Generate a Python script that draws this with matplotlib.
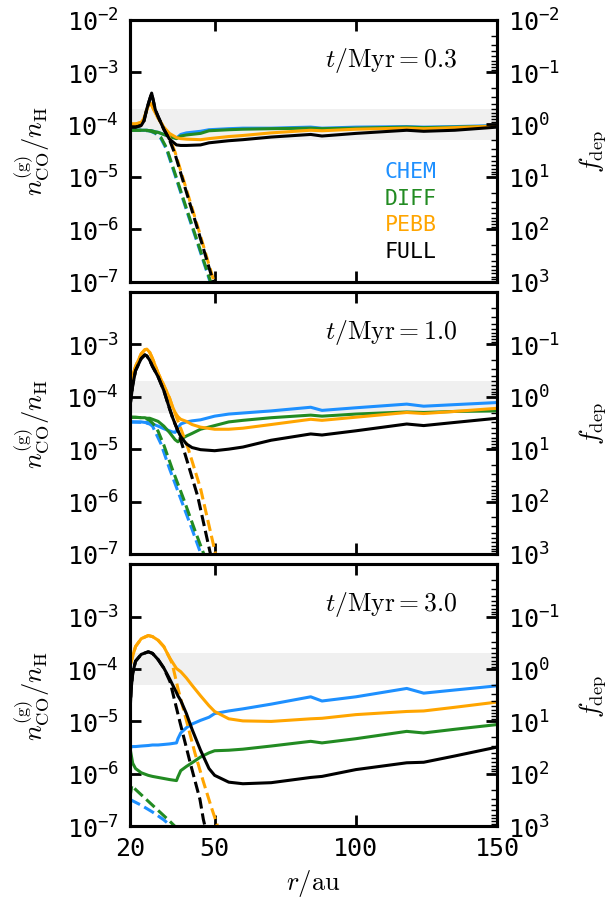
import numpy as np
import matplotlib.pyplot as plt
from matplotlib.ticker import FixedLocator, FuncFormatter, LogLocator, NullLocator

# gas-phase CO abundance (log10 n_CO/n_H) vs radius for the four models
times = ['0.3', '1.0', '3.0']
models = ['CHEM', 'DIFF', 'PEBB', 'FULL']
colors = {'CHEM': '#1e90ff', 'DIFF': '#228b22', 'PEBB': '#ffa500', 'FULL': 'black'}

# ---- t = 0.3 Myr ----
r1 = [20, 22, 24, 25, 26, 27, 27.7, 29, 30, 32, 34, 36.5, 38, 40, 45, 48, 55, 60, 70, 84, 88, 100, 118, 124, 135, 150]
chem1 = [-4.11, -4.11, -4.11, -4.11, -4.11, -4.12, -4.12, -4.14, -4.15, -4.19, -4.23, -4.26, -4.19, -4.16, -4.13,
         -4.10, -4.08, -4.07, -4.07, -4.05, -4.07, -4.05, -4.04, -4.05, -4.04, -4.02]
diff1 = [-4.11, -4.11, -4.11, -4.11, -4.11, -4.12, -4.12, -4.14, -4.15, -4.19, -4.23, -4.27, -4.22, -4.20, -4.17,
         -4.12, -4.10, -4.09, -4.08, -4.07, -4.08, -4.07, -4.05, -4.06, -4.05, -4.03]
pebb1 = [-3.99, -3.99, -3.96, -3.88, -3.72, -3.58, -3.63, -3.78, -3.88, -4.05, -4.17, -4.25, -4.27, -4.28, -4.29,
         -4.27, -4.23, -4.21, -4.16, -4.11, -4.12, -4.09, -4.07, -4.08, -4.06, -4.03]
full1 = [-4.05, -4.05, -4.02, -3.93, -3.70, -3.52, -3.40, -3.72, -3.85, -4.09, -4.28, -4.39, -4.40, -4.40, -4.39,
         -4.35, -4.31, -4.29, -4.24, -4.19, -4.22, -4.17, -4.11, -4.13, -4.11, -4.05]
# dashed curves
r1_chem_d = [20, 24, 27, 29, 31, 33, 36, 40, 44, 48, 50]
chem1_d = [-4.11, -4.11, -4.12, -4.17, -4.27, -4.48, -4.97, -5.63, -6.28, -6.94, -7.27]
r1_diff_d = [20, 24, 27, 29, 31, 33, 36, 40, 44, 48, 50]
diff1_d = [-4.11, -4.11, -4.12, -4.16, -4.25, -4.45, -4.94, -5.60, -6.25, -6.91, -7.24]
r1_pebb_d = [20, 22, 24, 25, 26, 27, 27.7, 29, 30, 32, 34, 36, 40, 44, 48, 50]
pebb1_d = [-3.99, -3.99, -3.96, -3.88, -3.72, -3.58, -3.63, -3.78, -3.88, -4.05, -4.25, -4.53, -5.24, -5.95, -6.68, -7.04]
r1_full_d = [20, 22, 24, 25, 26, 27, 27.7, 29, 30, 32, 34, 36, 40, 44, 48, 50]
full1_d = [-4.05, -4.05, -4.02, -3.93, -3.70, -3.52, -3.40, -3.72, -3.85, -4.09, -4.29, -4.57, -5.29, -6.00, -6.73, -7.09]

# ---- t = 1.0 Myr ----
r2 = [20, 21, 22, 24, 25.3, 26, 27, 28, 30, 32, 34, 35, 36, 37, 38, 40, 42, 45, 50, 55, 60, 70, 84, 88, 100, 118, 124, 135, 150]
chem2 = [-4.48, -4.48, -4.48, -4.48, -4.49, -4.49, -4.50, -4.52, -4.56, -4.61, -4.65, -4.67, -4.68, -4.60, -4.52,
         -4.48, -4.46, -4.44, -4.37, -4.33, -4.31, -4.27, -4.20, -4.26, -4.21, -4.14, -4.18, -4.15, -4.11]
diff2 = [-4.39, -4.39, -4.39, -4.40, -4.40, -4.41, -4.41, -4.43, -4.47, -4.56, -4.68, -4.75, -4.82, -4.86, -4.81,
         -4.75, -4.70, -4.62, -4.55, -4.48, -4.45, -4.40, -4.35, -4.37, -4.33, -4.29, -4.30, -4.28, -4.27]
pebb2 = [-3.85, -3.60, -3.42, -3.18, -3.10, -3.09, -3.15, -3.27, -3.55, -3.78, -4.02, -4.18, -4.30, -4.38, -4.43,
         -4.47, -4.53, -4.58, -4.62, -4.62, -4.60, -4.53, -4.43, -4.45, -4.39, -4.30, -4.32, -4.28, -4.22]
full2 = [-4.20, -3.78, -3.50, -3.27, -3.20, -3.22, -3.30, -3.42, -3.62, -3.88, -4.22, -4.38, -4.52, -4.65, -4.76,
         -4.90, -4.97, -5.01, -5.03, -5.00, -4.96, -4.83, -4.71, -4.73, -4.65, -4.52, -4.55, -4.49, -4.41]
r2_chem_d = [20, 25, 27, 28, 31, 34, 38, 42, 45, 46]
chem2_d = [-4.48, -4.49, -4.52, -4.56, -4.90, -5.37, -5.95, -6.53, -6.98, -7.12]
r2_diff_d = [20, 25, 27, 28.3, 30, 32, 35, 39, 43, 46, 47]
diff2_d = [-4.39, -4.40, -4.45, -4.52, -4.66, -4.92, -5.38, -5.95, -6.55, -6.98, -7.12]
r2_pebb_d = [20, 21, 22, 24, 25.3, 26, 27, 28, 30, 32, 34, 35, 37.7, 40.7, 45, 50.1, 51]
pebb2_d = [-3.85, -3.60, -3.42, -3.18, -3.10, -3.09, -3.15, -3.27, -3.55, -3.78, -4.02, -4.18, -4.56, -5.00, -5.75, -6.95, -7.15]
r2_full_d = [20, 21, 22, 24, 25.3, 26, 27, 28, 30, 32, 34, 35, 36, 37, 40, 44, 48.3, 49]
full2_d = [-4.20, -3.78, -3.50, -3.27, -3.20, -3.22, -3.30, -3.42, -3.62, -3.88, -4.22, -4.38, -4.52, -4.65, -5.18, -5.90, -6.95, -7.10]

# ---- t = 3.0 Myr ----
r3 = [20, 20.5, 21, 22, 24, 26.5, 28, 30, 32, 34, 36.5, 37, 38, 40, 42, 45, 48, 50, 55, 60, 70, 84, 88, 100, 118, 124, 135, 150]
chem3 = [-5.49, -5.49, -5.48, -5.48, -5.47, -5.46, -5.45, -5.45, -5.44, -5.43, -5.41, -5.33, -5.22, -5.12, -5.05,
         -4.98, -4.92, -4.85, -4.80, -4.76, -4.67, -4.53, -4.61, -4.53, -4.37, -4.46, -4.40, -4.32]
diff3 = [-5.50, -5.65, -5.80, -5.90, -5.98, -6.03, -6.05, -6.07, -6.09, -6.11, -6.13, -6.06, -5.94, -5.86, -5.79,
         -5.68, -5.60, -5.56, -5.55, -5.53, -5.47, -5.38, -5.41, -5.33, -5.19, -5.22, -5.15, -5.06]
pebb3 = [-3.95, -3.85, -3.75, -3.57, -3.42, -3.36, -3.38, -3.45, -3.57, -3.78, -3.99, -4.01, -4.05, -4.17, -4.31,
         -4.51, -4.70, -4.81, -4.95, -4.99, -5.00, -4.95, -4.94, -4.87, -4.81, -4.80, -4.73, -4.63]
full3 = [-4.85, -4.35, -4.08, -3.85, -3.72, -3.67, -3.70, -3.82, -3.98, -4.18, -4.45, -4.51, -4.60, -4.85, -5.15,
         -5.55, -5.90, -6.03, -6.16, -6.19, -6.17, -6.07, -6.05, -5.92, -5.79, -5.78, -5.66, -5.49]
r3_chem_d = [20, 24, 28, 32, 35]
chem3_d = [-6.49, -6.60, -6.73, -6.88, -7.02]
r3_diff_d = [20, 20.7, 22, 26, 30, 34, 37]
diff3_d = [-6.45, -6.22, -6.30, -6.50, -6.70, -6.90, -7.06]
r3_pebb_d = [20, 20.5, 21, 22, 24, 26.5, 28, 30, 32, 34, 35, 37, 40, 43, 46, 48.9, 50.7, 51.5]
pebb3_d = [-3.95, -3.85, -3.75, -3.57, -3.42, -3.36, -3.38, -3.45, -3.57, -3.78, -3.90, -4.37, -4.98, -5.60, -6.15,
           -6.65, -6.94, -7.10]
r3_full_d = [20, 20.5, 21, 22, 24, 26.5, 28, 30, 32, 34.2, 37.7, 41.3, 44.8, 46, 47]
full3_d = [-4.85, -4.35, -4.08, -3.85, -3.72, -3.67, -3.70, -3.82, -3.98, -4.24, -5.01, -5.78, -6.49, -6.87, -7.10]

panels = [
    (r1, [chem1, diff1, pebb1, full1],
     [(r1_chem_d, chem1_d), (r1_diff_d, diff1_d), (r1_pebb_d, pebb1_d), (r1_full_d, full1_d)]),
    (r2, [chem2, diff2, pebb2, full2],
     [(r2_chem_d, chem2_d), (r2_diff_d, diff2_d), (r2_pebb_d, pebb2_d), (r2_full_d, full2_d)]),
    (r3, [chem3, diff3, pebb3, full3],
     [(r3_chem_d, chem3_d), (r3_diff_d, diff3_d), (r3_pebb_d, pebb3_d), (r3_full_d, full3_d)]),
]

band = (5e-5, 2e-4)      # shaded ISM range
x_ref = 1e-4             # f_dep = x_ref / abundance
ylim = (1e-7, 1e-2)
xticks = [20, 50, 100, 150]

plt.rcParams['mathtext.fontset'] = 'dejavusans'
plt.rcParams['axes.linewidth'] = 2.2
tick_size = 18
label_size = 19
lw = 2.2


def decade_label(v, pos):
    e = int(round(np.log10(v)))
    return r'$\mathtt{10^{%d}}$' % e


fig, axes = plt.subplots(3, 1, figsize=(6.07, 9.03), dpi=100, sharex=True)
fig.subplots_adjust(left=0.214, right=0.819, top=0.977, bottom=0.084, hspace=0.04)

for i, (ax, (r, solids, dashed)) in enumerate(zip(axes, panels)):
    ax.axhspan(*band, color='#f0f0f0', lw=0, zorder=0)
    for name, y, (rd, yd) in zip(models, solids, dashed):
        ax.plot(rd, 10 ** np.array(yd), ls='--', color=colors[name], lw=lw)
        ax.plot(r, 10 ** np.array(y), color=colors[name], lw=lw, label=name)

    # only the top panel labels the upper decade
    top_exp = -2 if i == 0 else -3
    left_ticks = [10.0 ** e for e in range(-7, top_exp + 1)]
    right_ticks = [x_ref / t for t in left_ticks]

    ax.set_yscale('log')
    ax.set_ylim(*ylim)
    ax.set_xlim(20, 150)
    ax.xaxis.set_major_locator(FixedLocator(xticks))
    ax.yaxis.set_major_locator(FixedLocator(left_ticks))
    ax.yaxis.set_minor_locator(NullLocator())
    ax.yaxis.set_major_formatter(FuncFormatter(decade_label))
    ax.tick_params(which='major', direction='in', length=8, width=2, top=True, right=False,
                   labelsize=tick_size, pad=8)
    ax.set_ylabel(r'$n^{(\mathrm{g})}_{\mathrm{CO}}/n_{\mathrm{H}}$', math_fontfamily='cm',
                  fontsize=label_size, labelpad=10)
    ax.text(0.89, 0.85, r'$t/\mathrm{Myr} = %s$' % times[i], transform=ax.transAxes,
            ha='right', va='center', fontsize=18.5, math_fontfamily='cm')

    twin = ax.twinx()
    twin.set_yscale('log')
    twin.set_ylim(x_ref / ylim[0], x_ref / ylim[1])
    twin.yaxis.set_major_locator(FixedLocator(right_ticks))
    twin.yaxis.set_minor_locator(LogLocator(base=10, subs=np.arange(2, 10), numticks=20))
    twin.yaxis.set_major_formatter(FuncFormatter(decade_label))
    twin.tick_params(which='major', direction='in', length=8, width=2, labelsize=tick_size, pad=8)
    twin.tick_params(which='minor', direction='in', length=4, width=1)
    twin.set_ylabel(r'$f_{\mathrm{dep}}$', math_fontfamily='cm', fontsize=label_size, labelpad=12)

axes[0].legend(loc='lower right', bbox_to_anchor=(0.865, 0.038), frameon=False, handlelength=0,
               handletextpad=0, labelcolor='linecolor', labelspacing=0.3, borderpad=0,
               prop={'family': 'DejaVu Sans Mono', 'size': 15.5})

axes[-1].tick_params(axis='x', labelsize=tick_size, pad=7)
for lab in axes[-1].get_xticklabels():
    lab.set_family('DejaVu Sans Mono')
axes[-1].set_xlabel(r'$r/\mathrm{au}$', math_fontfamily='cm', fontsize=label_size, labelpad=5)

fig.savefig('out.png', dpi=100)
